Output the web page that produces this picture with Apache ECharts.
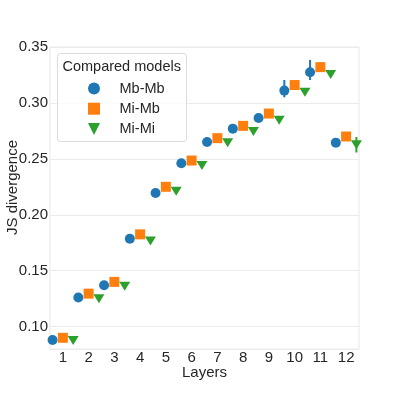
<!DOCTYPE html>
<html>
<head>
<meta charset="utf-8">
<script src="https://cdn.jsdelivr.net/npm/echarts@6/dist/echarts.min.js"></script>
<style>
  html, body { margin: 0; padding: 0; background: #fff; }
  #chart { width: 399px; height: 399px; }
</style>
</head>
<body>
<div id="chart"></div>
<script>
// layers 1..12, JS divergence per compared model pair
const layers = ['1', '2', '3', '4', '5', '6', '7', '8', '9', '10', '11', '12'];
const modelNames = ['Mb-Mb', 'Mi-Mb', 'Mi-Mi'];

const mbMb = [0.088, 0.126, 0.137, 0.1785, 0.2195, 0.246, 0.265, 0.277, 0.2865, 0.311, 0.3275, 0.2645];
const miMb = [0.090, 0.1295, 0.140, 0.1825, 0.225, 0.2485, 0.2685, 0.2795, 0.2905, 0.316, 0.332, 0.270];
const miMi = [0.0875, 0.125, 0.136, 0.1765, 0.221, 0.244, 0.2645, 0.2745, 0.2845, 0.3095, 0.3255, 0.2625];

// confidence intervals (mostly hidden behind the markers)
const mbMbLow = [0.087, 0.125, 0.136, 0.1775, 0.2185, 0.245, 0.264, 0.276, 0.2855, 0.305, 0.3205, 0.2635];
const mbMbHigh = [0.089, 0.127, 0.138, 0.1795, 0.2205, 0.247, 0.266, 0.278, 0.2875, 0.3205, 0.3385, 0.2655];
const miMbLow = [0.089, 0.1285, 0.139, 0.1815, 0.224, 0.2475, 0.2675, 0.2785, 0.2895, 0.315, 0.3285, 0.269];
const miMbHigh = [0.091, 0.1305, 0.141, 0.1835, 0.226, 0.2495, 0.2695, 0.2805, 0.2915, 0.317, 0.333, 0.271];
const miMiLow = [0.0865, 0.124, 0.135, 0.1755, 0.220, 0.243, 0.2635, 0.2735, 0.2835, 0.3085, 0.3235, 0.2557];
const miMiHigh = [0.0885, 0.126, 0.137, 0.1775, 0.222, 0.245, 0.2655, 0.2755, 0.2855, 0.3105, 0.3275, 0.2695];

const colors = ['#1f77b4', '#ff7f0e', '#2ca02c'];
const dodge = [-0.4, 0, 0.4];
const triDown = 'path://M0,0L2,0L1,2Z';

const chart = echarts.init(document.getElementById('chart'));

function points(vals, k) {
  return vals.map((v, i) => [i + dodge[k], v]);
}
function bars(lo, hi, k) {
  return lo.map((l, i) => [i + dodge[k], l, hi[i]]);
}

const errSeries = (lo, hi, k) => ({
  type: 'custom',
  xAxisIndex: 1,
  silent: true,
  z: 1,
  data: bars(lo, hi, k),
  renderItem: function (params, api) {
    const a = api.coord([api.value(0), api.value(1)]);
    const b = api.coord([api.value(0), api.value(2)]);
    return {
      type: 'line',
      shape: { x1: a[0], y1: a[1], x2: b[0], y2: b[1] },
      style: { stroke: colors[k], lineWidth: 2 }
    };
  }
});

const markerSeries = (name, vals, k, symbol, size) => ({
  name: name,
  type: 'scatter',
  xAxisIndex: 1,
  z: 3,
  symbol: symbol,
  symbolSize: size,
  itemStyle: { color: colors[k], opacity: 1 },
  data: points(vals, k)
});

const font = 'Liberation Sans, Arial, sans-serif';

const option = {
  animation: false,
  backgroundColor: '#fff',
  grid: {
    left: 50, right: 40, top: 47, bottom: 50,
    outerBoundsMode: 'none',
    containLabel: false,
    show: true, borderColor: '#e8e8e8', borderWidth: 1
  },
  xAxis: [
    {
      type: 'category',
      data: layers,
      name: 'Layers',
      nameLocation: 'middle',
      nameGap: 16,
      nameMoveOverlap: false,
      nameTextStyle: { fontFamily: font, fontSize: 15, color: '#262626' },
      axisLine: { show: false },
      axisTick: { show: false },
      axisLabel: { fontFamily: font, fontSize: 15, color: '#262626', margin: 1 },
      splitLine: { show: false }
    },
    {
      type: 'value',
      min: -0.5,
      max: 11.5,
      show: false
    }
  ],
  yAxis: {
    type: 'value',
    min: 0.08,
    max: 0.35,
    splitNumber: 5,
    name: 'JS divergence',
    nameLocation: 'middle',
    nameGap: 30,
    nameMoveOverlap: false,
    nameTextStyle: { fontFamily: font, fontSize: 15, color: '#262626', padding: [0, 0, 0, 21] },
    axisLine: { show: false },
    axisTick: { show: false },
    axisLabel: {
      fontFamily: font, fontSize: 15, color: '#262626', margin: 2,
      showMinLabel: false,
      formatter: v => v.toFixed(2)
    },
    splitLine: { lineStyle: { color: '#ebebeb', width: 1 } }
  },
  legend: {
    orient: 'vertical',
    left: 83,
    top: 76,
    z: 60,
    itemWidth: 12,
    itemHeight: 12,
    itemGap: 5.2,
    data: [
      { name: 'Mb-Mb', icon: 'circle' },
      { name: 'Mi-Mb', icon: 'rect' },
      { name: 'Mi-Mi', icon: triDown }
    ],
    textStyle: { fontFamily: font, fontSize: 14.5, color: '#262626', padding: [0, 0, 0, 14.5] }
  },
  graphic: [
    {
      type: 'rect',
      left: 57,
      top: 53,
      shape: { width: 129, height: 88, r: 3 },
      style: { fill: 'rgba(255,255,255,0.8)', stroke: '#dcdcdc', lineWidth: 1 },
      z: 50
    },
    {
      type: 'text',
      x: 121.7,
      y: 66.7,
      style: {
        text: 'Compared models', font: '14.5px ' + font, fill: '#262626',
        align: 'center', verticalAlign: 'middle'
      },
      z: 51
    }
  ],
  series: [
    errSeries(mbMbLow, mbMbHigh, 0),
    errSeries(miMbLow, miMbHigh, 1),
    errSeries(miMiLow, miMiHigh, 2),
    markerSeries('Mb-Mb', mbMb, 0, 'circle', 10),
    markerSeries('Mi-Mb', miMb, 1, 'rect', 10),
    markerSeries('Mi-Mi', miMi, 2, triDown, [11, 9])
  ]
};

chart.setOption(option);
</script>
</body>
</html>
